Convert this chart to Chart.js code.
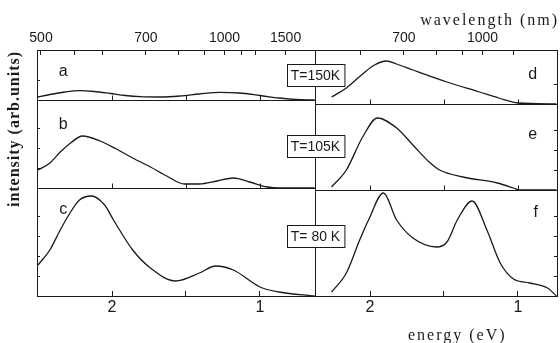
<!DOCTYPE html>
<html>
<head>
<meta charset="utf-8">
<script src="https://cdn.jsdelivr.net/npm/chart.js@4.4.1/dist/chart.umd.min.js"></script>
<style>
  html, body { margin: 0; padding: 0; background: #fff; }
</style>
</head>
<body>
<canvas id="myChart" width="560" height="343"></canvas>
<script>
// photon energy (eV) vs intensity (arb. units, 1 unit = one tenth of a row)
// left panel: a, b, c  -- right panel: d, e, f
const energyA = [2.50, 2.42, 2.32, 2.22, 2.12, 2.01, 1.91, 1.81, 1.68, 1.54, 1.41, 1.27, 1.14, 1.00, 0.87, 0.76, 0.63];
const intensA = [0.30, 0.55, 0.80, 0.93, 0.85, 0.65, 0.45, 0.33, 0.30, 0.40, 0.60, 0.77, 0.70, 0.45, 0.20, 0.05, 0.00];

const energyB = [2.50, 2.42, 2.35, 2.28, 2.20, 2.08, 1.97, 1.86, 1.74, 1.63, 1.51, 1.41, 1.29, 1.18, 1.07, 0.95, 0.87, 0.63];
const intensB = [1.8, 2.5, 3.6, 4.5, 5.2, 4.7, 3.9, 3.0, 2.1, 1.2, 0.4, 0.4, 0.7, 1.0, 0.6, 0.1, 0.0, 0.0];

const energyC = [2.50, 2.42, 2.35, 2.28, 2.22, 2.14, 2.05, 1.99, 1.86, 1.74, 1.57, 1.41, 1.30, 1.18, 1.00, 0.87, 0.63];
const intensC = [3.1, 4.6, 6.6, 8.4, 9.6, 10.0, 9.1, 7.6, 4.6, 2.8, 1.5, 2.3, 3.0, 2.6, 0.9, 0.4, 0.0];

const energyD = [2.26, 2.16, 2.05, 1.97, 1.89, 1.82, 1.71, 1.48, 1.26, 1.13, 1.00, 0.74];
const intensD = [0.7, 1.6, 3.0, 3.9, 4.3, 4.0, 3.4, 2.2, 1.2, 0.6, 0.1, 0.0];

const energyE = [2.26, 2.16, 2.05, 1.95, 1.82, 1.71, 1.60, 1.53, 1.37, 1.14, 1.03, 0.99, 0.74];
const intensE = [0.3, 2.0, 5.3, 7.2, 6.2, 4.5, 2.8, 2.0, 1.3, 0.7, 0.2, 0.0, 0.0];

const energyF = [2.26, 2.16, 2.07, 2.01, 1.91, 1.82, 1.71, 1.55, 1.48, 1.41, 1.31, 1.21, 1.12, 1.03, 0.92, 0.80, 0.74];
const intensF = [0.4, 2.3, 5.6, 7.6, 10.3, 7.6, 5.8, 4.9, 5.4, 7.6, 9.5, 6.6, 3.3, 1.7, 1.3, 0.8, 0.0];

const energyTicks = [2, 1.5, 1];
const energyLabels = [2, 1];
const wavelengthTicksLeft = [500, 550, 600, 700, 800, 900, 1000, 1100, 1200, 1500];
const wavelengthTicksRight = [600, 700, 800, 900, 1000, 1200];
const wavelengthLabels = [500, 700, 1000, 1500];
const curveLetters = ['a', 'b', 'c', 'd', 'e', 'f'];
const tempLabels = ['T=150K', 'T=105K', 'T= 80 K'];

const ink = '#1a1a1a';
const sans = 'Liberation Sans, Arial, sans-serif';
const serif = 'Liberation Serif, Times New Roman, serif';

const toXY = (es, is) => es.map((e, i) => ({x: e, y: is[i]}));

function curve(es, is, xId, yId) {
  return {
    data: toXY(es, is),
    xAxisID: xId,
    yAxisID: yId,
    borderColor: ink,
    borderWidth: 1.3,
    pointRadius: 0,
    fill: false,
    cubicInterpolationMode: 'monotone'
  };
}

function rowAxis(max, position, weight, size) {
  return {
    type: 'linear', axis: 'y', position: position,
    stack: position, stackWeight: max, weight: weight,
    min: 0, max: max,
    grid: {drawOnChartArea: false, tickLength: -3, color: ink},
    border: {color: ink, width: 1},
    ticks: {display: false, stepSize: 2},
    afterFit: (s) => { s.width = size; s.paddingTop = 0; s.paddingBottom = 0; }
  };
}

function energyAxis(min, max, weight, width) {
  return {
    type: 'linear', axis: 'x', position: 'bottom',
    stack: 'bottom', stackWeight: width, weight: weight,
    min: min, max: max, reverse: true,
    grid: {drawOnChartArea: false, tickLength: -5, color: ink},
    border: {color: ink, width: 1},
    ticks: {
      autoSkip: false, maxRotation: 0, padding: 7, color: ink,
      font: {family: sans, size: 16},
      callback: (v) => energyLabels.includes(v) ? String(v) : ''
    },
    afterBuildTicks: (s) => { s.ticks = energyTicks.map(v => ({value: v})); },
    afterFit: (s) => { s.height = 47; s.paddingLeft = 0; s.paddingRight = 0; }
  };
}

function wavelengthAxis(min, max, weight, width, wl) {
  return {
    type: 'linear', axis: 'x', position: 'top',
    stack: 'top', stackWeight: width, weight: weight,
    min: min, max: max, reverse: true,
    grid: {drawOnChartArea: false, tickLength: -5, color: ink},
    border: {color: ink, width: 1},
    ticks: {
      autoSkip: false, maxRotation: 0, padding: 8, color: ink,
      font: {family: sans, size: 14},
      callback: (v, i) => wavelengthLabels.includes(wl[i]) ? String(wl[i]) : ''
    },
    // wavelength ticks placed on the energy scale, E = 1240 / lambda
    afterBuildTicks: (s) => { s.ticks = wl.map(w => ({value: 1240 / w})); },
    afterFit: (s) => { s.height = 50; s.paddingLeft = 0; s.paddingRight = 0; }
  };
}

const panelDecor = {
  id: 'panelDecor',
  afterDraw(chart) {
    const {ctx, chartArea, scales} = chart;
    const line = (x1, y1, x2, y2) => {
      ctx.beginPath(); ctx.moveTo(x1, y1); ctx.lineTo(x2, y2); ctx.stroke();
    };
    ctx.save();
    ctx.strokeStyle = ink;
    ctx.fillStyle = ink;
    ctx.lineWidth = 1;

    // divider between the two panels
    const xd = Math.round(scales.xL.right) + 0.5;
    line(xd, chartArea.top, xd, chartArea.bottom);

    // baselines of the upper rows, with their energy ticks
    [[scales.xL, scales.yA], [scales.xL, scales.yB], [scales.xR, scales.yD], [scales.xR, scales.yE]].forEach(([sx, sy]) => {
      const y = Math.round(sy.getPixelForValue(0)) + 0.5;
      line(sx.left, y, sx.right, y);
      energyTicks.forEach(e => {
        const x = Math.round(sx.getPixelForValue(e)) + 0.5;
        line(x, y, x, y - 5);
      });
    });

    // curve letters
    ctx.font = '16px ' + sans;
    ctx.textAlign = 'center';
    ctx.textBaseline = 'middle';
    const letterAt = [
      [scales.xL, 2.33, scales.yA, 2.8], [scales.xL, 2.33, scales.yB, 6.3], [scales.xL, 2.33, scales.yC, 8.6],
      [scales.xR, 0.90, scales.yD, 2.9], [scales.xR, 0.90, scales.yE, 5.5], [scales.xR, 0.88, scales.yF, 8.3]
    ];
    letterAt.forEach(([sx, ex, sy, iy], i) => {
      ctx.fillText(curveLetters[i], sx.getPixelForValue(ex), sy.getPixelForValue(iy));
    });

    // temperature boxes on the divider
    ctx.font = '14px ' + sans;
    const boxAt = [[scales.yA, 2.5], [scales.yB, 4.2], [scales.yC, 6.0]];
    boxAt.forEach(([sy, iy], i) => {
      const w = ctx.measureText(tempLabels[i]).width + 8;
      const h = 22;
      const cy = Math.round(sy.getPixelForValue(iy));
      const x0 = Math.round(xd - w / 2) + 0.5;
      const y0 = cy - h / 2 + 0.5;
      ctx.fillStyle = '#fff';
      ctx.fillRect(x0, y0, w, h);
      ctx.strokeRect(x0, y0, w, h);
      ctx.fillStyle = ink;
      ctx.fillText(tempLabels[i], xd, cy + 1);
    });

    // axis titles
    ctx.letterSpacing = '2px';
    ctx.font = '16px ' + serif;
    ctx.textAlign = 'right';
    ctx.fillText('wavelength (nm)', chartArea.right + 2, 21);
    ctx.textAlign = 'center';
    ctx.fillText('energy (eV)', scales.xR.getPixelForValue(1.41), 336);
    ctx.letterSpacing = '1px';
    ctx.font = 'bold 16px ' + serif;
    ctx.translate(15, 129);
    ctx.rotate(-Math.PI / 2);
    ctx.fillText('intensity (arb.units)', 0, 0);
    ctx.restore();
  }
};

const chart = new Chart(document.getElementById('myChart'), {
  type: 'line',
  data: {
    datasets: [
      curve(energyA, intensA, 'xL', 'yA'),
      curve(energyB, intensB, 'xL', 'yB'),
      curve(energyC, intensC, 'xL', 'yC'),
      curve(energyD, intensD, 'xR', 'yD'),
      curve(energyE, intensE, 'xR', 'yE'),
      curve(energyF, intensF, 'xR', 'yF')
    ]
  },
  options: {
    responsive: false,
    animation: false,
    devicePixelRatio: 1,
    layout: {padding: 0},
    plugins: {legend: {display: false}, tooltip: {enabled: false}},
    scales: {
      xL: energyAxis(0.628, 2.507, 1, 278),
      xR: energyAxis(0.736, 2.372, 2, 242),
      tL: wavelengthAxis(0.628, 2.507, 2, 278, wavelengthTicksLeft),
      tR: wavelengthAxis(0.736, 2.372, 1, 242, wavelengthTicksRight),
      yA: rowAxis(5.0, 'left', 3, 37),
      yB: rowAxis(8.8, 'left', 2, 37),
      yC: rowAxis(10.8, 'left', 1, 37),
      yD: rowAxis(5.4, 'right', 1, 3),
      yE: rowAxis(8.6, 'right', 2, 3),
      yF: rowAxis(10.6, 'right', 3, 3)
    }
  },
  plugins: [panelDecor]
});
</script>
</body>
</html>
